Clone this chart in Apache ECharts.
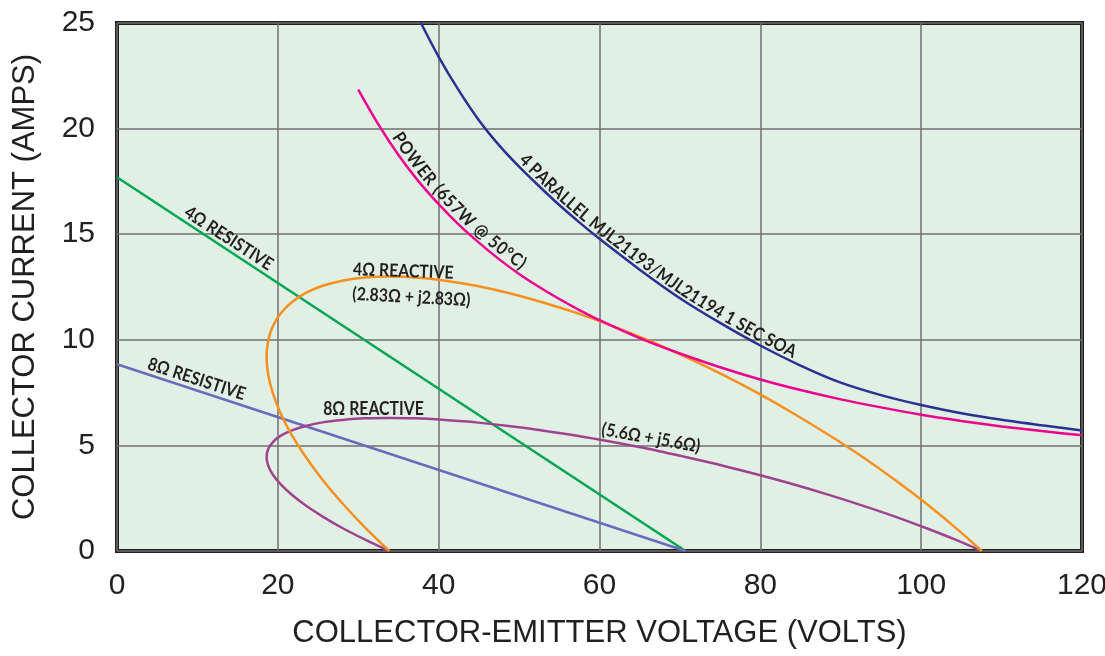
<!DOCTYPE html>
<html>
<head>
<meta charset="utf-8">
<script src="https://cdn.jsdelivr.net/npm/echarts@6/dist/echarts.min.js"></script>
<style>
html,body{margin:0;padding:0;background:#ffffff;}
#chart{width:1105px;height:656px;}
</style>
</head>
<body>
<div id="chart"></div>
<script>
// ---------- data ----------
const xTicks = [0, 20, 40, 60, 80, 100, 120];          // volts
const yTicks = [0, 5, 10, 15, 20, 25];                 // amps

const resistive4 = [[0, 17.7], [70.7, 0]];
const resistive8 = [[0, 8.84], [70.7, 0]];

const power657 = [
  [30, 21.85], [32.5, 20.2], [35, 18.75], [37.5, 17.5], [40, 16.42], [42.5, 15.45],
  [45, 14.6], [47.5, 13.82], [50, 13.12], [52.5, 12.5], [55, 11.93], [57.5, 11.41],
  [60, 10.93], [65, 10.08], [70, 9.35], [75, 8.7], [80, 8.12], [85, 7.62], [90, 7.18],
  [95, 6.8], [100, 6.45], [105, 6.16], [110, 5.9], [115, 5.68], [120, 5.48]
];

const soa4parallel = [
  [37.8, 25], [40, 23.4], [42.5, 21.81], [45, 20.4], [47.5, 19.22], [50, 18.2],
  [52.5, 17.27], [55, 16.38], [57.5, 15.56], [60, 14.78], [65, 13.32], [70, 11.97],
  [75, 10.8], [80, 9.73], [85, 8.78], [90, 7.97], [95, 7.38], [100, 6.91],
  [105, 6.52], [110, 6.21], [115, 5.95], [120, 5.71]
];

const reactive4 = [
  [33.86, 0], [30.79, 1.13], [28.02, 2.26], [25.58, 3.36], [23.48, 4.45], [21.74, 5.49],
  [20.37, 6.5], [19.39, 7.46], [18.8, 8.36], [18.6, 9.19], [18.8, 9.96], [19.39, 10.65],
  [20.37, 11.26], [21.74, 11.78], [23.48, 12.22], [25.58, 12.56], [28.02, 12.8],
  [30.79, 12.95], [33.86, 13.0], [37.21, 12.95], [40.82, 12.8], [44.65, 12.56],
  [48.68, 12.22], [52.88, 11.78], [57.22, 11.26], [61.65, 10.65], [66.16, 9.96],
  [70.7, 9.19], [75.24, 8.36], [79.75, 7.46], [84.18, 6.5], [88.52, 5.49],
  [92.72, 4.45], [96.75, 3.36], [100.58, 2.26], [104.19, 1.13], [107.54, 0]
];

const reactive8 = [
  [33.86, 0], [30.79, 0.55], [28.02, 1.09], [25.58, 1.63], [23.48, 2.15], [21.74, 2.66],
  [20.37, 3.15], [19.39, 3.61], [18.8, 4.05], [18.6, 4.45], [18.8, 4.83], [19.39, 5.16],
  [20.37, 5.46], [21.74, 5.71], [23.48, 5.92], [25.58, 6.09], [28.02, 6.2],
  [30.79, 6.28], [33.86, 6.3], [37.21, 6.28], [40.82, 6.2], [44.65, 6.09],
  [48.68, 5.92], [52.88, 5.71], [57.22, 5.46], [61.65, 5.16], [66.16, 4.83],
  [70.7, 4.45], [75.24, 4.05], [79.75, 3.61], [84.18, 3.15], [88.52, 2.66],
  [92.72, 2.15], [96.75, 1.63], [100.58, 1.09], [104.19, 0.55], [107.54, 0]
];

// annotation texts
const straightLabels = [
  { text: '4Ω RESISTIVE', at: [13.9, 14.8], angle: 33 },
  { text: '8Ω RESISTIVE', at: [9.9, 8.14], angle: 18 },
  { text: '8Ω REACTIVE', at: [31.9, 6.73], angle: 0 },
  { text: '4Ω REACTIVE', at: [35.6, 13.25], angle: 2 },
  { text: '(2.83Ω + j2.83Ω)', at: [36.6, 12.02], angle: 3 },
  { text: '(5.6Ω + j5.6Ω)', at: [66.4, 5.35], angle: 10 }
];
const curvedLabels = [
  { text: 'POWER (657W @ 50°C)', curve: power657, startV: 33.7, offset: 10, spacing: 0.9 },
  { text: '4 PARALLEL MJL21193/MJL21194 1 SEC SOA', curve: soa4parallel, startV: 49.6, offset: 9, spacing: 0.2 }
];

// ---------- chart ----------
const INK = '#231f20';
const FONT = '"Liberation Sans", Arial, sans-serif';
const LABEL_FONT = 'Lato, "Liberation Sans", sans-serif';
const LABEL_SIZE = 18;
const LABEL_SCALE_X = 0.88;
const LABEL_WEIGHT = 'bold';

function lineSeries(name, data, color, smooth) {
  return {
    name: name, type: 'line', data: data, showSymbol: false, smooth: smooth,
    lineStyle: { color: color, width: 2.5 }, clip: true, silent: true
  };
}

const chart = echarts.init(document.getElementById('chart'), null, { renderer: 'canvas' });
const option = {
  animation: false,
  backgroundColor: '#ffffff',
  grid: {
    left: 117, right: 23, top: 23, bottom: 105, containLabel: false, outerBoundsMode: 'none',
    show: true, backgroundColor: '#e1f0e5', borderColor: INK, borderWidth: 4
  },
  xAxis: {
    type: 'value', min: xTicks[0], max: xTicks[xTicks.length - 1], interval: 20,
    name: 'COLLECTOR-EMITTER VOLTAGE (VOLTS)', nameLocation: 'middle', nameGap: 67,
    nameTextStyle: { fontSize: 31, color: INK, fontFamily: FONT },
    axisLine: { show: false }, axisTick: { show: false },
    axisLabel: { fontSize: 30, color: INK, fontFamily: FONT, margin: 20 },
    splitLine: { show: true, lineStyle: { color: '#6f6f6f', width: 1.5 } }
  },
  yAxis: {
    type: 'value', min: yTicks[0], max: yTicks[yTicks.length - 1], interval: 5,
    name: 'COLLECTOR CURRENT (AMPS)', nameLocation: 'middle', nameGap: 76,
    nameTextStyle: { fontSize: 31, color: INK, fontFamily: FONT },
    axisLine: { show: false }, axisTick: { show: false },
    axisLabel: { fontSize: 30, color: INK, fontFamily: FONT, margin: 22 },
    splitLine: { show: true, lineStyle: { color: '#6f6f6f', width: 1.5 } }
  },
  series: [
    lineSeries('4Ω resistive', resistive4, '#00a651', false),
    lineSeries('8Ω resistive', resistive8, '#6b6bbd', false),
    lineSeries('8Ω reactive', reactive8, '#a0438f', 0.3),
    lineSeries('4Ω reactive', reactive4, '#f7901e', 0.3),
    lineSeries('Power 657W', power657, '#ec008c', 0.3),
    lineSeries('SOA', soa4parallel, '#2b3192', 0.3)
  ]
};
chart.setOption(option);

// ---------- annotations ----------
const measureCtx = document.createElement('canvas').getContext('2d');
measureCtx.font = LABEL_WEIGHT + ' ' + LABEL_SIZE + 'px ' + LABEL_FONT;
function toPx(p) { return chart.convertToPixel({ gridIndex: 0 }, p); }
function textEl(str, x, y, rot) {
  return {
    type: 'text', x: x, y: y, rotation: rot, scaleX: LABEL_SCALE_X, scaleY: 1, z: 100, silent: true,
    style: {
      text: str, fill: INK, fontSize: LABEL_SIZE, fontFamily: LABEL_FONT, fontWeight: LABEL_WEIGHT,
      align: 'center', verticalAlign: 'middle', textAlign: 'center', textVerticalAlign: 'middle'
    }
  };
}
const graphics = [];
straightLabels.forEach(function (l) {
  const p = toPx(l.at);
  graphics.push(textEl(l.text, p[0], p[1], -l.angle * Math.PI / 180));
});
curvedLabels.forEach(function (l) {
  const pts = l.curve.map(toPx);
  const cum = [0];
  for (let i = 1; i < pts.length; i++) {
    cum.push(cum[i - 1] + Math.hypot(pts[i][0] - pts[i - 1][0], pts[i][1] - pts[i - 1][1]));
  }
  function at(s) {
    let i = 1;
    while (i < pts.length - 1 && cum[i] < s) i++;
    const t = (s - cum[i - 1]) / (cum[i] - cum[i - 1]);
    return [pts[i - 1][0] + t * (pts[i][0] - pts[i - 1][0]), pts[i - 1][1] + t * (pts[i][1] - pts[i - 1][1])];
  }
  let s0 = 0;
  for (let i = 1; i < l.curve.length; i++) {
    if (l.curve[i][0] >= l.startV) {
      const t = (l.startV - l.curve[i - 1][0]) / (l.curve[i][0] - l.curve[i - 1][0]);
      s0 = cum[i - 1] + t * (cum[i] - cum[i - 1]);
      break;
    }
  }
  let cur = s0;
  for (const ch of l.text) {
    const w = measureCtx.measureText(ch).width * LABEL_SCALE_X + l.spacing;
    const s = cur + w / 2;
    const p = at(s), pa = at(s - 6), pb = at(s + 6);
    const a = Math.atan2(pb[1] - pa[1], pb[0] - pa[0]);
    const cx = p[0] + Math.sin(a) * l.offset;
    const cy = p[1] - Math.cos(a) * l.offset;
    if (ch !== ' ') graphics.push(textEl(ch, cx, cy, -a));
    cur += w;
  }
});
chart.setOption({ graphic: graphics });
</script>
</body>
</html>
